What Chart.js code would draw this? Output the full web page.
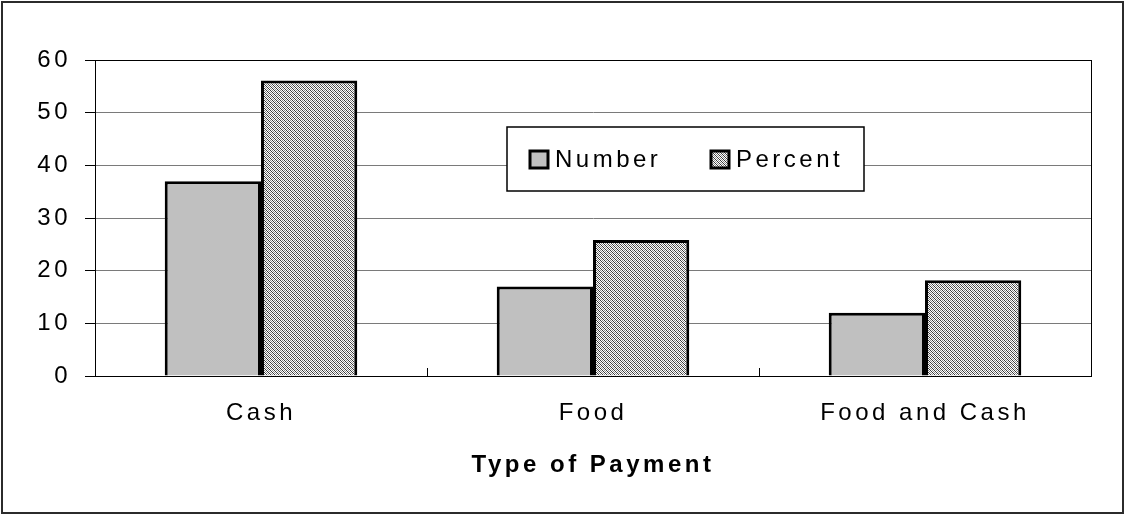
<!DOCTYPE html>
<html>
<head>
<meta charset="utf-8">
<script src="https://cdn.jsdelivr.net/npm/chart.js@4.4.1/dist/chart.umd.min.js"></script>
<style>
  html, body { margin: 0; padding: 0; background: #fff; }
  #wrap { width: 1125px; height: 514px; position: relative; }
</style>
</head>
<body>
<div id="wrap"><canvas id="payChart" width="1125" height="514"></canvas></div>
<script>
const categories = ['Cash', 'Food', 'Food and Cash'];
const seriesNames = ['Number', 'Percent'];
const numberValues = [37, 17, 12];
const percentValues = [56.1, 25.8, 18.2];
const yTicks = [0, 10, 20, 30, 40, 50, 60];
const axisTitle = 'Type of Payment';

const FONT = "'Liberation Sans', Arial, sans-serif";
const SPACING = '3.5px';

const canvas = document.getElementById('payChart');
const ctx = canvas.getContext('2d');

// fine diagonal dither used for the Percent bars
function makeHatch() {
    const tile = document.createElement('canvas');
    tile.width = 4; tile.height = 4;
    const g = tile.getContext('2d');
    g.fillStyle = '#ffffff';
    g.fillRect(0, 0, 4, 4);
    for (let y = 0; y < 4; y++) {
        for (let x = 0; x < 4; x++) {
            const d = (((x - y) % 4) + 4) % 4;
            if (d === 0) { g.fillStyle = '#3a3a3a'; g.fillRect(x, y, 1, 1); }
            if (d === 2) { g.fillStyle = '#8a8a8a'; g.fillRect(x, y, 1, 1); }
        }
    }
    return ctx.createPattern(tile, 'repeat');
}

const hatch = makeHatch();

// Outer frame, plot frame, letter spacing
const framePlugin = {
    id: 'frame',
    beforeLayout(chart) {
        chart.ctx.letterSpacing = SPACING;
    },
    beforeDraw(chart) {
        const c = chart.ctx;
        c.letterSpacing = SPACING;
        c.save();
        c.fillStyle = '#fff';
        c.fillRect(0, 0, chart.width, chart.height);
        c.strokeStyle = '#2b2b2b';
        c.lineWidth = 2;
        c.strokeRect(2, 2, chart.width - 4, chart.height - 3);
        c.restore();
    },
    beforeDatasetsDraw(chart) {
        const a = chart.chartArea;
        const c = chart.ctx;
        c.save();
        c.strokeStyle = '#000';
        c.lineWidth = 1;
        c.strokeRect(Math.round(a.left) + 0.5, Math.round(a.top) + 0.5,
            Math.round(a.right - a.left), Math.round(a.bottom - a.top));
        c.restore();
    }
};

// Boxed legend sitting inside the plot area
const boxLegend = {
    id: 'boxLegend',
    afterDatasetsDraw(chart) {
        const a = chart.chartArea;
        const c = chart.ctx;
        const bx = a.left + 412, by = a.top + 67, bw = 357, bh = 64;
        c.save();
        c.fillStyle = '#fff';
        c.fillRect(bx, by, bw, bh);
        c.strokeStyle = '#000';
        c.lineWidth = 1.5;
        c.strokeRect(bx, by, bw, bh);

        const offsets = [23, 204];
        c.font = '24px ' + FONT;
        c.letterSpacing = SPACING;
        c.textBaseline = 'middle';
        c.textAlign = 'left';
        chart.data.datasets.forEach((ds, i) => {
            const sx = bx + offsets[i], sy = by + 24;
            c.fillStyle = ds.backgroundColor;
            c.fillRect(sx, sy, 18, 17);
            c.strokeStyle = '#000';
            c.lineWidth = 3;
            c.strokeRect(sx, sy, 18, 17);
            c.fillStyle = '#000';
            c.fillText(ds.label, sx + 25, sy + 9);
        });
        c.restore();
    }
};

new Chart(ctx, {
    type: 'bar',
    data: {
        labels: categories,
        datasets: [
            {
                label: seriesNames[0],
                data: numberValues,
                backgroundColor: '#c0c0c0',
                borderColor: '#000',
                borderWidth: 3,
                categoryPercentage: 0.58,
                barPercentage: 1.0
            },
            {
                label: seriesNames[1],
                data: percentValues,
                backgroundColor: hatch,
                borderColor: '#000',
                borderWidth: 3,
                categoryPercentage: 0.58,
                barPercentage: 1.0
            }
        ]
    },
    options: {
        responsive: false,
        animation: false,
        layout: { padding: { left: 0, top: 60, right: 34, bottom: 0 } },
        plugins: {
            legend: { display: false },
            tooltip: { enabled: false }
        },
        scales: {
            x: {
                afterFit: (scale) => { scale.height = 138; },
                ticks: {
                    color: '#000',
                    font: { family: FONT, size: 24 },
                    padding: 31,
                    maxRotation: 0
                },
                grid: {
                    offset: true,
                    drawOnChartArea: false,
                    tickLength: -8,
                    color: '#000'
                },
                border: { display: true, color: '#000', width: 1 },
                title: {
                    display: true,
                    text: axisTitle,
                    color: '#000',
                    font: { family: FONT, size: 24, weight: 'bold' },
                    padding: { top: 0, bottom: 34 }
                }
            },
            y: {
                min: yTicks[0],
                max: yTicks[yTicks.length - 1],
                afterFit: (scale) => { scale.width = 95; },
                afterBuildTicks: (scale) => {
                    scale.ticks = yTicks.map(v => ({ value: v }));
                },
                ticks: {
                    color: '#000',
                    font: { family: FONT, size: 24 },
                    padding: 14
                },
                grid: {
                    color: (c) => (c.tick && c.tick.value === 60 ? '#000' : '#7a7a7a'),
                    tickColor: '#000',
                    tickLength: 10
                },
                border: { display: true, color: '#000', width: 1 }
            }
        }
    },
    plugins: [framePlugin, boxLegend]
});
</script>
</body>
</html>
